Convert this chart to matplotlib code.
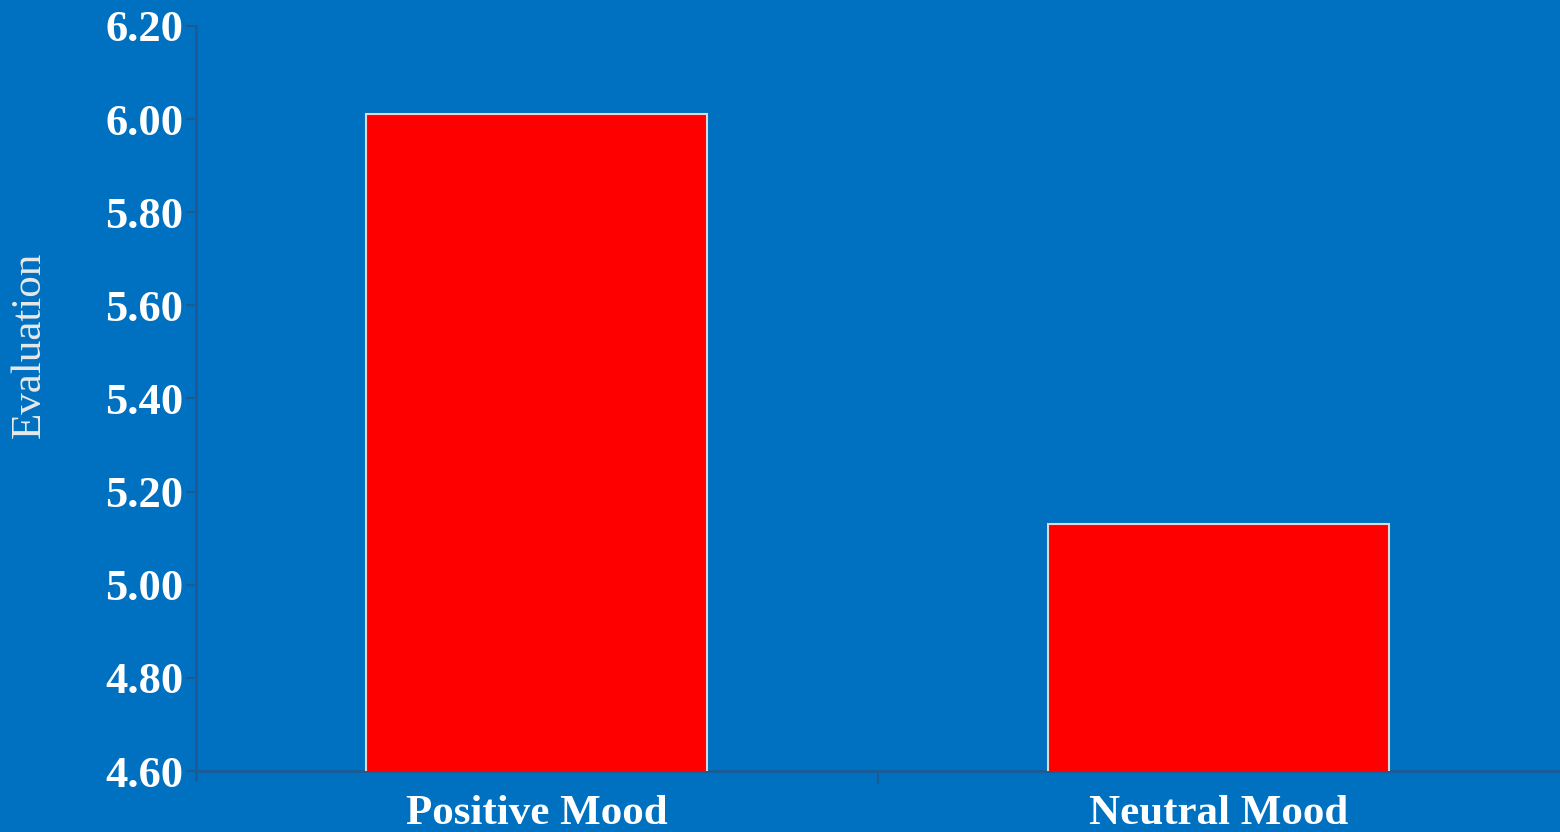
import matplotlib.pyplot as plt
import numpy as np

# mean evaluation per mood condition
conditions = ['Positive Mood', 'Neutral Mood']
evaluation = [6.01, 5.13]
y_ticks = [4.60, 4.80, 5.00, 5.20, 5.40, 5.60, 5.80, 6.00, 6.20]

bg = '#0070c0'
axis_col = '#1d5b94'

plt.rcParams['font.family'] = ['Liberation Serif', 'DejaVu Serif']

fig = plt.figure(figsize=(15.6, 8.32), dpi=100, facecolor=bg)
ax = fig.add_axes([0.1256, 0.0733, 0.8744, 0.8955], facecolor=bg)

x = np.arange(len(conditions))
ax.bar(x, evaluation, width=0.5, color='#ff0000', edgecolor='#e0d6d6', linewidth=1.5,
       zorder=3)

ax.set_xlim(-0.5, 1.5)
ax.set_ylim(4.6, 6.2)
ax.set_yticks(y_ticks)
ax.set_yticklabels(['%.2f' % v for v in y_ticks])
ax.set_xticks(x)
ax.set_xticklabels(conditions)
ax.set_xticks([0.5], minor=True)

for s in ['top', 'right']:
    ax.spines[s].set_visible(False)
for s in ['left', 'bottom']:
    ax.spines[s].set_color(axis_col)
    ax.spines[s].set_linewidth(2)
ax.spines['left'].set_bounds(4.6 - 0.02, 6.2)

ax.tick_params(axis='y', colors=axis_col, length=7, width=1.5, pad=2,
               labelcolor='white', labelsize=32)
ax.tick_params(axis='x', which='major', length=0, pad=17,
               labelcolor='white', labelsize=31)
ax.tick_params(axis='x', which='minor', colors=axis_col, length=9, width=1.5)
for lbl in ax.get_yticklabels() + ax.get_xticklabels():
    lbl.set_fontweight('bold')

ax.set_ylabel('Evaluation', color='#e8e8e8', fontsize=31, ha='center', va='center')
ax.yaxis.set_label_coords(-0.1217, 0.572)

fig.savefig('out.png', dpi=100, facecolor=bg)
